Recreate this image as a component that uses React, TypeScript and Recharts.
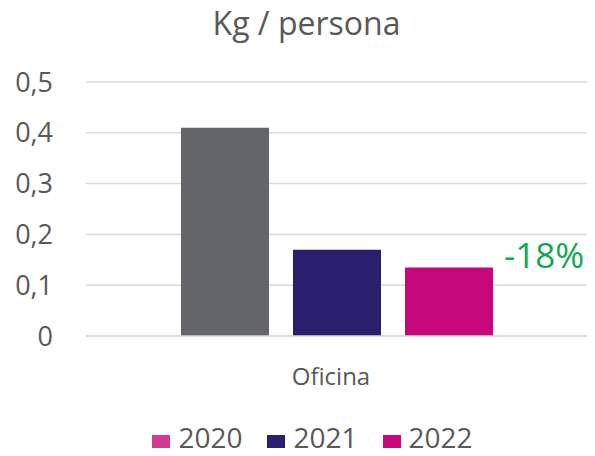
import React from 'react';
import { BarChart, Bar, XAxis, YAxis, CartesianGrid, Legend, Cell } from 'recharts';

const categories = ['Oficina'];
const values2020 = [0.41];
const values2021 = [0.17];
const values2022 = [0.135];
const yTicks = [0, 0.1, 0.2, 0.3, 0.4, 0.5];
const changeLabel = '-18%';

const data = categories.map((name, i) => ({
  name,
  y2020: values2020[i],
  y2021: values2021[i],
  y2022: values2022[i],
}));

const FONT = '"Open Sans", sans-serif';
const TEXT = '#595959';

const fmtTick = (v: number) => (v === 0 ? '0' : String(v).replace('.', ','));

const ChangeLabel = (props: any) => {
  const { x, y, width } = props;
  return (
    <text x={x + width + 11} y={y - 9} fill="#13a84f" fontSize={35} fontFamily={FONT} dominantBaseline="middle">
      {changeLabel}
    </text>
  );
};

export default function App() {
  return (
    <div style={{ position: 'relative', width: 595, height: 456, margin: -8, background: '#fff', fontFamily: FONT }}>
      <div style={{ position: 'absolute', top: 0, left: 0, width: 595, textAlign: 'center', fontSize: 32, color: TEXT, lineHeight: '46px', paddingLeft: 18, boxSizing: 'border-box' }}>
        Kg / persona
      </div>
      <BarChart width={595} height={456} data={data} margin={{ top: 82, right: 7, left: 0, bottom: 0 }} barCategoryGap={95} barGap={24}>
        <CartesianGrid vertical={false} stroke="#d9d9d9" strokeWidth={1.5} />
        <XAxis dataKey="name" height={64} axisLine={{ stroke: '#d9d9d9', strokeWidth: 1.5 }} tickLine={false}
          tick={{ fill: TEXT, fontSize: 24, fontFamily: FONT }} tickMargin={26} dx={-6} />
        <YAxis width={86} domain={[0, 0.5]} ticks={yTicks} tickFormatter={fmtTick} axisLine={false} tickLine={false}
          tick={{ fill: TEXT, fontSize: 27, fontFamily: FONT }} tickMargin={27} />
        <Legend verticalAlign="bottom" height={56} iconType="square" iconSize={18}
          wrapperStyle={{ top: 418, bottom: 'auto', left: 31 }}
          formatter={(value: string) => <span style={{ color: TEXT, fontSize: 28, marginLeft: 4, marginRight: 15 }}>{value}</span>} />
        <Bar dataKey="y2020" name="2020" fill="#d53a93" isAnimationActive={false}>
          {data.map((d) => <Cell key={d.name} fill="#636569" />)}
        </Bar>
        <Bar dataKey="y2021" name="2021" fill="#2a1f6d" isAnimationActive={false} />
        <Bar dataKey="y2022" name="2022" fill="#c6077b" isAnimationActive={false} label={<ChangeLabel />} />
      </BarChart>
    </div>
  );
}
